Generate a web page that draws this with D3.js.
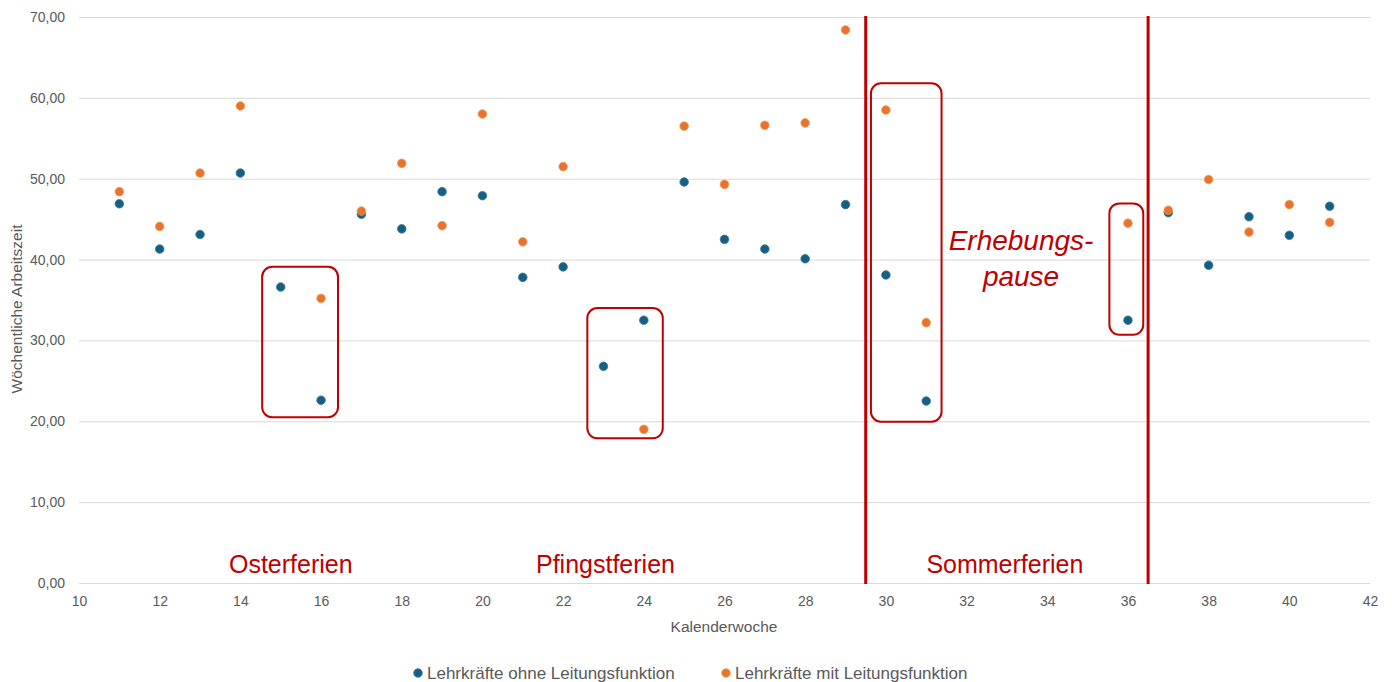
<!DOCTYPE html>
<html lang="de">
<head>
<meta charset="utf-8">
<script src="https://cdn.jsdelivr.net/npm/d3@7"></script>
<style>
  html, body { margin: 0; padding: 0; background: #fff; }
  svg { display: block; }
  text { font-family: "Liberation Sans", Arial, sans-serif; }
</style>
</head>
<body>
<svg id="chart" width="1392" height="682"></svg>
<script>
// Kalenderwochen und Wochenarbeitszeit (Stunden)
const weeksOhne = [11,12,13,14,15,16,17,18,19,20,21,22,23,24,25,26,27,28,29,30,31,36,37,38,39,40,41];
const ohneLeitung = [46.9,41.3,43.1,50.7,36.6,22.6,45.6,43.8,48.4,47.9,37.8,39.1,26.8,32.5,49.6,42.5,41.3,40.1,46.8,38.1,22.5,32.5,45.8,39.3,45.3,43.0,46.6];
const weeksMit = [11,12,13,14,16,17,18,19,20,21,22,24,25,26,27,28,29,30,31,36,37,38,39,40,41];
const mitLeitung = [48.4,44.1,50.7,59.0,35.2,46.0,51.9,44.2,58.0,42.2,51.5,19.0,56.5,49.3,56.6,56.9,68.4,58.5,32.2,44.5,46.1,49.9,43.4,46.8,44.6];

const seriesNames = ["Lehrkräfte ohne Leitungsfunktion", "Lehrkräfte mit Leitungsfunktion"];
const xTicks = d3.range(10, 43, 2);
const yTicks = d3.range(0, 71, 10);

// Trennlinien der Erhebungspause (zwischen den Kalenderwochen)
const pauseLines = [29.5, 36.5];
// Markierte Ferienwochen: Wochenbereich und Stundenbereich
const holidayBoxes = [
  { x0: 14.54, x1: 16.42, y0: 20.5, y1: 39.1 },
  { x0: 22.6,  x1: 24.47, y0: 17.9, y1: 34.0 },
  { x0: 29.63, x1: 31.38, y0: 19.95, y1: 61.8 },
  { x0: 35.54, x1: 36.38, y0: 30.7, y1: 46.95 }
];
const holidayLabels = [
  { text: "Osterferien",   week: 15.25 },
  { text: "Pfingstferien", week: 23.05 },
  { text: "Sommerferien",  week: 32.95 }
];
const pauseLabel = { lines: ["Erhebungs-", "pause"], week: 33.35 };

const colors = ["#156082", "#E97132"];
const strokes = ["#3a7a9a", "#F0A040"];
const red = "#C00000";

const svg = d3.select("#chart");
const plot = { left: 79, right: 1370, top: 17, bottom: 583 };

const x = d3.scaleLinear().domain([10, 42]).range([plot.left, plot.right]);
const y = d3.scaleLinear().domain([0, 70]).range([plot.bottom, plot.top]);

// Gitterlinien + y-Beschriftung
const yAxis = d3.axisLeft(y)
  .tickValues(yTicks)
  .tickSize(-(plot.right - plot.left))
  .tickPadding(14)
  .tickFormat(d => d3.format(".2f")(d).replace(".", ","));
const gy = svg.append("g").attr("transform", `translate(${plot.left},0)`).call(yAxis);
gy.select(".domain").remove();
gy.selectAll(".tick line").attr("stroke", "#d9d9d9").attr("stroke-width", 1);
gy.selectAll(".tick text").attr("fill", "#595959").style("font-size", "14px");

// x-Achse
const xAxis = d3.axisBottom(x).tickValues(xTicks).tickSize(0).tickPadding(13);
const gx = svg.append("g").attr("transform", `translate(0,${plot.bottom})`).call(xAxis);
gx.select(".domain").remove();
gx.selectAll(".tick text").attr("fill", "#595959").style("font-size", "14px");

// Achsentitel
svg.append("text")
  .attr("x", 724).attr("y", 632)
  .attr("text-anchor", "middle").attr("fill", "#595959")
  .style("font-size", "15.5px").text("Kalenderwoche");
svg.append("text")
  .attr("transform", `translate(22,309) rotate(-90)`)
  .attr("text-anchor", "middle").attr("fill", "#595959")
  .style("font-size", "15.5px").text("Wöchentliche Arbeitszeit");

// Trennlinien
svg.append("g").selectAll("line").data(pauseLines).join("line")
  .attr("x1", d => x(d)).attr("x2", d => x(d))
  .attr("y1", plot.top - 1).attr("y2", plot.bottom + 1)
  .attr("stroke", red).attr("stroke-width", 3);

// Ferien-Rahmen
svg.append("g").selectAll("rect").data(holidayBoxes).join("rect")
  .attr("x", d => x(d.x0)).attr("y", d => y(d.y1))
  .attr("width", d => x(d.x1) - x(d.x0)).attr("height", d => y(d.y0) - y(d.y1))
  .attr("rx", 10).attr("ry", 10)
  .attr("fill", "none").attr("stroke", red).attr("stroke-width", 2);

// Ferien-Beschriftungen
svg.append("g").selectAll("text").data(holidayLabels).join("text")
  .attr("x", d => x(d.week)).attr("y", 573)
  .attr("text-anchor", "middle").attr("fill", red)
  .style("font-size", "25px").text(d => d.text);

svg.append("g").selectAll("text").data(pauseLabel.lines).join("text")
  .attr("x", x(pauseLabel.week)).attr("y", (d, i) => 250 + i * 36)
  .attr("text-anchor", "middle").attr("fill", red)
  .style("font-size", "28px").style("font-style", "italic").text(d => d);

// Datenpunkte
const series = [
  weeksOhne.map((w, i) => ({ w, v: ohneLeitung[i] })),
  weeksMit.map((w, i) => ({ w, v: mitLeitung[i] }))
];
series.forEach((pts, s) => {
  svg.append("g").selectAll("circle").data(pts).join("circle")
    .attr("cx", d => x(d.w)).attr("cy", d => y(d.v)).attr("r", 4.3)
    .attr("fill", colors[s]).attr("stroke", strokes[s]).attr("stroke-width", 0.8);
});

// Legende
const legendX = [418, 726];
const lg = svg.append("g").selectAll("g").data(seriesNames).join("g")
  .attr("transform", (d, i) => `translate(${legendX[i]},673)`);
lg.append("circle").attr("r", 4.3)
  .attr("fill", (d, i) => colors[i]).attr("stroke", (d, i) => strokes[i]).attr("stroke-width", 0.8);
lg.append("text").attr("x", 9).attr("y", 6)
  .attr("fill", "#595959").style("font-size", "17px").text(d => d);
</script>
</body>
</html>
